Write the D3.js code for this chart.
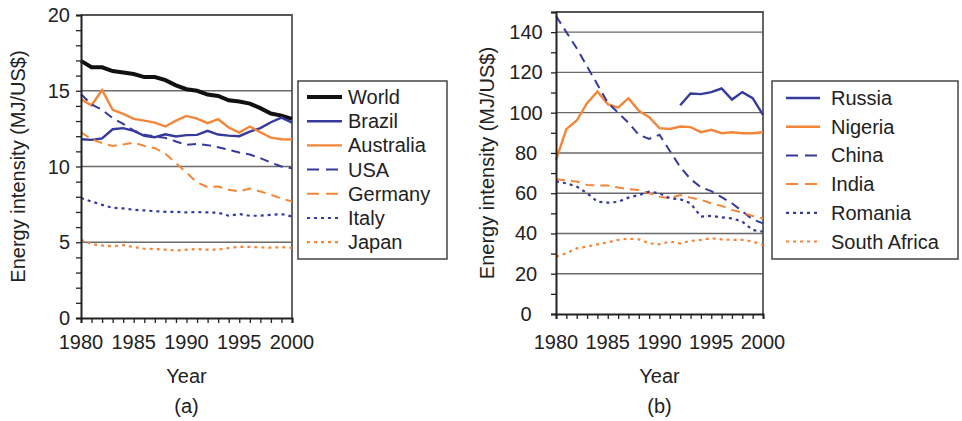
<!DOCTYPE html>
<html>
<head>
<meta charset="utf-8">
<script src="https://cdn.jsdelivr.net/npm/d3@7"></script>
<style>
  body { margin: 0; background: #fff; }
  text { font-family: "Liberation Sans", Arial, sans-serif; fill: #222; }
</style>
</head>
<body>
<div id="chart"></div>
<script>
// years shared by both panels
var years = d3.range(1980, 2001);

// panel (a)
var world     = [16.97, 16.55, 16.55, 16.3, 16.2, 16.1, 15.9, 15.9, 15.7, 15.36, 15.1, 15.0, 14.75, 14.66, 14.37, 14.29, 14.15, 13.85, 13.5, 13.36, 13.14];
var brazil    = [11.8, 11.76, 11.85, 12.46, 12.53, 12.35, 12.02, 11.93, 12.13, 11.98, 12.07, 12.09, 12.35, 12.11, 12.04, 12.0, 12.3, 12.53, 12.92, 13.23, 12.9];
var australia = [14.44, 14.04, 15.05, 13.74, 13.47, 13.14, 13.03, 12.9, 12.64, 13.03, 13.34, 13.16, 12.86, 13.12, 12.57, 12.24, 12.64, 12.26, 11.91, 11.8, 11.78];
var usa       = [14.77, 14.1, 13.74, 13.19, 12.81, 12.37, 12.09, 11.98, 11.89, 11.65, 11.43, 11.49, 11.41, 11.27, 11.1, 10.92, 10.79, 10.55, 10.26, 10.0, 9.89];
var germany   = [12.26, 11.8, 11.54, 11.36, 11.45, 11.58, 11.36, 11.21, 10.84, 10.22, 9.6, 8.95, 8.64, 8.68, 8.46, 8.35, 8.55, 8.35, 8.13, 7.89, 7.69];
var italy     = [7.91, 7.69, 7.47, 7.27, 7.23, 7.14, 7.1, 7.05, 7.01, 7.01, 6.97, 6.99, 6.97, 6.95, 6.75, 6.86, 6.75, 6.75, 6.81, 6.86, 6.7];
var japan     = [5.16, 4.88, 4.79, 4.73, 4.81, 4.68, 4.57, 4.55, 4.51, 4.46, 4.51, 4.55, 4.51, 4.51, 4.62, 4.7, 4.7, 4.66, 4.64, 4.68, 4.62];

// panel (b)
var russia      = [null, null, null, null, null, null, null, null, null, null, null, null, 103.7, 109.5, 109.2, 110.2, 112, 106.5, 110.2, 107.2, 98.9];
var nigeria     = [76.5, 91.8, 96.1, 104.7, 110.5, 104.2, 102.5, 107.2, 100.9, 97.7, 92.3, 91.9, 93.1, 92.8, 90.3, 91.5, 89.8, 90.3, 89.8, 89.8, 90.3];
var china       = [148, 140, 132, 123, 114, 105, 100, 95, 89, 87, 89, 81, 73, 67, 63, 61, 58, 55, 51, 47, 45];
var india       = [66.9, 66.3, 65.8, 64.1, 63.8, 63.8, 62.8, 62, 61.6, 60, 58.3, 57.5, 59.1, 57.8, 56.7, 55, 53.7, 51.7, 50.4, 48.7, 47.5];
var romania     = [65.8, 64.9, 63.3, 60, 55.8, 55.3, 55.7, 57.8, 59.1, 60.8, 60, 57.5, 57, 55, 48.4, 48.7, 48, 47.5, 45.9, 41.7, 40.9];
var southAfrica = [28.5, 30.2, 32.6, 33.5, 34.6, 35.6, 36.8, 37.4, 37.1, 35.1, 34.6, 36, 35.1, 36.3, 36.8, 37.6, 37.1, 36.8, 36.8, 36, 34.3];

var xTicks = [1980, 1985, 1990, 1995, 2000];
var yTicksA = [0, 5, 10, 15, 20];
var yTicksB = [0, 20, 40, 60, 80, 100, 120, 140];

var blue = "#353a9c", orange = "#f4863a";
var styles = {
    solidBold: {w: 4, dash: null},
    solid: {w: 2.4, dash: null},
    dashed: {w: 2, dash: "9,6"},
    dotted: {w: 2.2, dash: "3,4"}
};

var svg = d3.select("#chart").append("svg")
    .attr("width", 962).attr("height", 421);

function drawPanel(cfg) {
    var x = d3.scaleLinear().domain([1980, 2000]).range([cfg.left, cfg.right]);
    var y = d3.scaleLinear().domain([0, cfg.yMax]).range([cfg.bottom, cfg.top]);
    var g = svg.append("g");

    // gridlines
    g.selectAll(".grid").data(cfg.grid).enter().append("line")
        .attr("x1", cfg.left).attr("x2", cfg.right)
        .attr("y1", d => y(d)).attr("y2", d => y(d))
        .attr("stroke", "#6a6a6a").attr("stroke-width", 1.4);

    // frame top + right
    g.append("path")
        .attr("d", "M" + cfg.left + "," + y(cfg.yMax) + "H" + cfg.right + "V" + cfg.bottom)
        .attr("fill", "none").attr("stroke", "#555").attr("stroke-width", 1.8);

    // series
    var line = d3.line()
        .defined(d => d.v != null)
        .x(d => x(d.year)).y(d => y(d.v));
    cfg.series.forEach(function (s) {
        var st = styles[s.style];
        g.append("path")
            .datum(years.map((yr, i) => ({year: yr, v: s.values[i]})))
            .attr("d", line)
            .attr("fill", "none")
            .attr("stroke", s.color)
            .attr("stroke-width", st.w)
            .attr("stroke-dasharray", st.dash);
    });

    // y axis
    var yAxis = g.append("g")
        .attr("transform", "translate(" + cfg.left + ",0)")
        .call(d3.axisLeft(y).tickValues(d3.range(0, cfg.yMax + 0.001, cfg.minorStep))
            .tickSize(5).tickFormat(""));
    yAxis.select(".domain").attr("stroke", "#222").attr("stroke-width", 2);
    yAxis.selectAll(".tick line").attr("stroke", "#222").attr("stroke-width", 1.3);

    g.selectAll(".ylab").data(cfg.yTicks).enter().append("text")
        .attr("x", cfg.yLabelX)
        .attr("y", d => y(d) + 7)
        .attr("text-anchor", cfg.yLabelAnchor)
        .style("font-size", "20px")
        .text(d => d);

    // x axis
    var xAxis = g.append("g")
        .attr("transform", "translate(0," + cfg.bottom + ")")
        .call(d3.axisBottom(x).tickValues(years).tickSize(5).tickFormat(""));
    xAxis.select(".domain").attr("stroke", "#222").attr("stroke-width", 2);
    xAxis.selectAll(".tick line").attr("stroke", "#222").attr("stroke-width", 1.3);

    g.selectAll(".xlab").data(xTicks).enter().append("text")
        .attr("x", d => x(d))
        .attr("y", 349)
        .attr("text-anchor", "middle")
        .style("font-size", "20px")
        .text(d => d);

    var cx = (cfg.left + cfg.right) / 2;
    g.append("text").attr("x", cx).attr("y", 383)
        .attr("text-anchor", "middle").style("font-size", "20px").text("Year");
    g.append("text").attr("x", cx).attr("y", 413)
        .attr("text-anchor", "middle").style("font-size", "20px").text(cfg.caption);

    g.append("text")
        .attr("transform", "translate(" + cfg.yTitleX + "," + (cfg.top + cfg.bottom) / 2 + ") rotate(-90)")
        .attr("text-anchor", "middle")
        .style("font-size", "20px")
        .text("Energy intensity (MJ/US$)");

    // legend
    var lg = g.append("g");
    lg.append("rect")
        .attr("x", cfg.legend.x).attr("y", cfg.legend.y)
        .attr("width", cfg.legend.w).attr("height", cfg.legend.h)
        .attr("fill", "#fff").attr("stroke", "#444").attr("stroke-width", 1.5);
    cfg.series.forEach(function (s, i) {
        var st = styles[s.style];
        var ly = cfg.legend.y0 + i * cfg.legend.step;
        lg.append("line")
            .attr("x1", cfg.legend.lx1).attr("x2", cfg.legend.lx2)
            .attr("y1", ly).attr("y2", ly)
            .attr("stroke", s.color).attr("stroke-width", st.w)
            .attr("stroke-dasharray", s.style == "dashed" ? "12,7" : st.dash);
        lg.append("text")
            .attr("x", cfg.legend.tx).attr("y", ly + 7)
            .style("font-size", "20px")
            .text(s.name);
    });
}

drawPanel({
    left: 81, right: 292, top: 15, bottom: 318, yMax: 20, minorStep: 1,
    grid: [5, 10, 15], yTicks: yTicksA, yLabelX: 70, yLabelAnchor: "end",
    yTitleX: 25, caption: "(a)",
    legend: {x: 298, y: 81, w: 149, h: 178, y0: 97, step: 24.2, lx1: 307, lx2: 342, tx: 348},
    series: [
        {name: "World", values: world, color: "#111", style: "solidBold"},
        {name: "Brazil", values: brazil, color: blue, style: "solid"},
        {name: "Australia", values: australia, color: orange, style: "solid"},
        {name: "USA", values: usa, color: blue, style: "dashed"},
        {name: "Germany", values: germany, color: orange, style: "dashed"},
        {name: "Italy", values: italy, color: blue, style: "dotted"},
        {name: "Japan", values: japan, color: orange, style: "dotted"}
    ]
});

drawPanel({
    left: 556, right: 763, top: 12, bottom: 314, yMax: 150, minorStep: 10,
    grid: [20, 40, 60, 80, 100, 120, 140], yTicks: yTicksB, yLabelX: 526, yLabelAnchor: "middle",
    yTitleX: 494, caption: "(b)",
    legend: {x: 772, y: 81, w: 186, h: 178, y0: 98, step: 28.7, lx1: 786, lx2: 820, tx: 831},
    series: [
        {name: "Russia", values: russia, color: blue, style: "solid"},
        {name: "Nigeria", values: nigeria, color: orange, style: "solid"},
        {name: "China", values: china, color: blue, style: "dashed"},
        {name: "India", values: india, color: orange, style: "dashed"},
        {name: "Romania", values: romania, color: blue, style: "dotted"},
        {name: "South Africa", values: southAfrica, color: orange, style: "dotted"}
    ]
});
</script>
</body>
</html>
